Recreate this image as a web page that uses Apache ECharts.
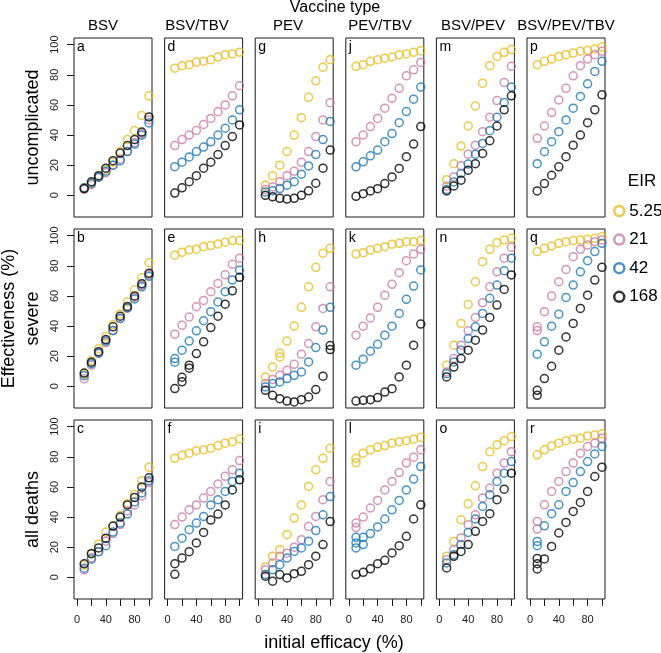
<!DOCTYPE html>
<html>
<head>
<meta charset="utf-8">
<script src="https://cdn.jsdelivr.net/npm/echarts@6/dist/echarts.min.js"></script>
<style>html,body{margin:0;padding:0;background:#fff;}#chart{width:661px;height:653px;}</style>
</head>
<body>
<div id="chart"></div>
<script>
// ---- data ----
const efficacy = [10, 20, 30, 40, 50, 60, 70, 80, 90, 100];
const eirLevels = ['5.25', '21', '42', '168'];
const vaccineTypes = ['BSV', 'BSV/TBV', 'PEV', 'PEV/TBV', 'BSV/PEV', 'BSV/PEV/TBV'];
const outcomes = ['uncomplicated', 'severe', 'all deaths'];
const panelLetters = ['a','b','c','d','e','f','g','h','i','j','k','l','m','n','o','p','q','r'];
const xTicks = [0, 20, 40, 60, 80, 100];
const xTickLabels = [0, 40, 80];
const yTicks = [0, 20, 40, 60, 80, 100];

// each panel: rows = EIR 5.25, 21, 42, 168 ; columns = efficacy 10..100
const panelA = [[5,8,12,17,22,29,37,43,53,66],[4,7,12,15,20,24,29,35,41,50],[5,8,12,16,20,23,29,34,40,48],[4.5,9,13,18,23,28,33,37,42,52]];
const panelB = [[8,17,25,33,41,48,56,64,72,82],[5,14,22,29,37,45,52,59,67,74],[7,15,22,30,37,45,52,58,66,73],[8.8,16,23,31,39.5,46.5,53,60,68,75]];
const panelC = [[8,16,22,30,34,41,49,55,64,73],[5,13,17,24,29,35,44,48,54,63],[6,12,17,21,30,36,42,50,56,64],[9,15.7,19.5,26,34,40,48,53,60,66]];
const panelD = [[84.4,86,86.7,88.4,89,90,91.8,93.3,93.8,95],[33,37,40,43,47,51,55.5,60,66,72.7],[19,22,25.5,29,32,35.5,40,44.5,50,56.7],[1.5,5,9,13,18,22,27,33,39,46.7]];
const panelE = [[87,89,90.5,91,92.7,93.4,94.5,95.6,96.7,96.7],[34.6,40.6,46,52.8,57,62.8,68.3,74,81,85],[18.4,24,30,36.8,43.5,49.5,56,62.8,70.5,77],[-1.5,6,14,21.7,29.5,39,46.5,54.5,63.4,72.3]];
const panelF = [[79,81,82.4,84,84.6,85.7,87.4,89,90,91.8],[35,40,44.8,48,52.6,57,62,67,71.3,77.5],[20.5,26,31.6,36,40.4,48,51.5,57,63.6,69],[9,12.8,17,22.8,29.8,38,42,48,58,64.7]];
const panelG = [[6.7,13,20,29,40,51.5,65,76,85,90],[3.8,5.5,9,13,16,22,29,39,50,61.5],[2.2,3,4.5,6.7,9,14,19.5,27,37,49],[0,-1,-2,-2.5,-2,0,3,8,18,30]];
const panelH = [[6.2,12.8,19.5,30,40,52.4,66,79,88.3,91.6],[1.8,4.5,7.3,10.6,14.6,21.3,28.4,39.5,51.7,66],[-0.4,1.8,2.9,5.1,7.3,9.5,16.2,25.7,37.3,52.4],[-2.7,-6,-8.2,-9.8,-10.4,-8.9,-7.1,-2.2,6.7,24.4]];
const panelI = [[6.9,14,18.3,28.3,39.3,48,60.3,71.3,79,85.7],[5,9.5,14,16,20,25,33.8,40.4,51.5,63.6],[1.8,5,8.4,12.8,17.2,19.5,24,31,41.5,53.6],[0.7,-2.6,1.8,-0.4,2.4,4,8.4,14,21.7,37]];
const panelJ = [[85.6,86.7,88.9,90,91,91.8,93.3,93.8,94.9,96],[35.6,40,45.6,51,57.8,64.4,71,79.3,83.3,88.2],[18.9,22.2,26.2,30,35.6,41,48.2,55.6,63.8,71.8],[-0.7,1.1,2.9,4.4,7.8,12.2,17.8,25.6,34,45.6]];
const panelK = [[87.8,88.7,90.5,91.6,92.7,94.3,94.9,96,96,96.7],[33.9,39.9,45.4,52.4,60.5,67.7,75.4,83.4,87.8,90.9],[14,18,23.3,27.9,33.9,39.9,48.4,57.7,66.5,77.2],[-9.8,-9.3,-8.9,-7.5,-3.8,-1.6,6.2,14,27.3,41.3]];
const panelL = [[79,82.4,84.6,86.4,87.4,89,90,90.7,91.7,93],[36,40,46,51,58,63.6,69.5,75.8,79.7,84.6],[22.8,21.7,29,33.4,38.7,44.8,51,58,65.2,73.5],[1.8,3.3,5.6,9,11.3,16.2,21,27.2,38.7,48.1]];
const panelM = [[10.4,21,32.7,46,59.3,74.4,86,92.2,94.9,96.7],[6,12.2,19.6,27.3,33.3,42.2,51.8,62.9,74.9,85.6],[3.8,8.9,14.4,20.7,27.3,34.4,42.9,51.8,61.6,71.8],[2.9,6.2,10,16.7,21,27.8,36.2,46,56.7,66]];
const panelN = [[14,27.3,41.7,54.3,69.4,82.7,90.9,95.3,97.1,98.2],[9.5,18.4,27.3,36.8,45.7,55.4,66,76,85,92.3],[8.4,16.2,24,31.7,39.5,48.4,58.4,67.2,76.7,85],[6.2,12.8,18.4,24,30.6,37.3,45.7,53.9,64.3,73.9]];
const panelO = [[14,23.8,38.2,48.8,60.7,73.5,83.4,87.9,90.7,93.4],[11.7,18.3,26.1,34.9,41.5,52.6,59.2,69.1,75.8,83.4],[9.5,15,21.7,29.8,38.7,47,54.8,63.6,69.1,76.8],[6.2,13.9,17.2,21.7,30.5,37.1,42.2,51.5,58.5,69.1]];
const panelP = [[86.7,88.9,90.4,92.2,93.3,94.4,95.6,96.2,97.1,98.4],[37.8,46,54.9,63.3,71,79.3,86,90.4,93.3,95.6],[21,28.9,35.6,42.2,50,57.8,65.6,74,82.2,88.9],[2.9,7.8,13.3,18.9,25.6,33.3,40,48.2,56.7,66.7]];
const panelQ = [[89.4,91.6,93.1,94.9,96,96.7,97.1,97.6,98.2,99.4],[39.5,49.5,59.9,69.4,77.6,86,90.9,93.8,96,97.1],[21.3,29.5,39.9,47.9,59,67.2,76,83.4,89.4,94.9],[-2.7,5.1,13.3,24,32.8,41.7,51.7,60.5,70.5,79]];
const panelR = [[81.3,84.6,87.2,89,90.7,91.7,92.3,93.8,94.5,95.2],[37.1,48.1,57,63.6,70.2,75.8,82.4,86.8,89,92.3],[23.8,34.2,42.2,48.1,57,62.9,70.2,76.8,81.9,86.8],[9,12.2,20.5,29.4,36.4,43.7,49.7,57,66.9,73.1]];

// additional replicate runs visible as stacked circles: [panel letter, EIR index, efficacy, effectiveness]
const replicates = [
  ['e',3,20,3],['e',3,30,12],['e',2,10,16],
  ['f',3,10,2],
  ['h',3,100,27],['h',0,30,22],
  ['l',2,10,26.5],['l',2,10,19.5],['l',2,20,26.5],['l',0,10,76],['l',1,10,33],
  ['q',3,10,-6],['q',1,10,37],
  ['r',3,10,12.5],['r',3,10,5.5],['r',1,10,32],['r',2,10,21]
];

// ---- presentation ----
const panels = [panelA,panelB,panelC,panelD,panelE,panelF,panelG,panelH,panelI,panelJ,panelK,panelL,panelM,panelN,panelO,panelP,panelQ,panelR];
const colors = ['#E6BE1E', '#CC79A7', '#1A78B4', '#000000'];
const FONT = "'Liberation Sans', Arial, Helvetica, sans-serif";
const gridLefts = [74, 164.6, 255.2, 345.8, 436.4, 527];
const gridTops = [38, 229, 420];
const GW = 78, GH = 179;
const titleCenters = [103, 197, 288, 380, 473, 566];

const grids = [], xAxes = [], yAxes = [], series = [], graphics = [];
panels.forEach((vals, p) => {
  const c = Math.floor(p / 3), r = p % 3;
  grids.push({left: gridLefts[c], top: gridTops[r], width: GW, height: GH, show: true,
    borderColor: '#1a1a1a', borderWidth: 1, backgroundColor: 'transparent', containLabel: false});
  const bottom = r === 2, first = c === 0;
  xAxes.push({type: 'value', gridIndex: p, min: -4.2, max: 104.2, position: 'bottom',
    axisLine: {show: false, onZero: false}, splitLine: {show: false},
    axisTick: {show: bottom, customValues: xTicks, length: 7, lineStyle: {color: '#1a1a1a', width: 1}},
    axisLabel: {show: bottom, customValues: xTickLabels, margin: 15, fontSize: 11, fontFamily: FONT, color: '#1a1a1a'}});
  yAxes.push({type: 'value', gridIndex: p, min: -14.4, max: 104.4, position: 'left',
    axisLine: {show: false, onZero: false}, splitLine: {show: false},
    axisTick: {show: first, customValues: yTicks, length: 7, lineStyle: {color: '#1a1a1a', width: 1}},
    axisLabel: {show: first, customValues: yTicks, rotate: 90, margin: 14, fontSize: 11, fontFamily: FONT, color: '#1a1a1a'}});
  vals.forEach((row, k) => {
    const pts = efficacy.map((x, i) => [x, row[i]]);
    replicates.forEach(rp => {
      if (rp[0] === panelLetters[p] && rp[1] === k) pts.push([rp[2], rp[3]]);
    });
    series.push({type: 'scatter', name: eirLevels[k], xAxisIndex: p, yAxisIndex: p,
      data: pts,
      symbol: 'circle', symbolSize: 8, clip: true, silent: true,
      itemStyle: {color: 'rgba(0,0,0,0)', borderColor: colors[k], borderWidth: 1.5},
      emphasis: {disabled: true}});
  });
  graphics.push({type: 'text', x: gridLefts[c] + 3, y: gridTops[r] + 2,
    style: {text: panelLetters[p], font: '14px ' + FONT, fill: '#000', textAlign: 'left', textVerticalAlign: 'top', align: 'left', verticalAlign: 'top'}});
});

vaccineTypes.forEach((t, c) => {
  graphics.push({type: 'text', x: titleCenters[c], y: 26,
    style: {text: t, font: '15px ' + FONT, fill: '#000', textAlign: 'center', textVerticalAlign: 'middle', align: 'center', verticalAlign: 'middle'}});
});
outcomes.forEach((t, r) => {
  graphics.push({type: 'text', x: 33, y: gridTops[r] + GH / 2, rotation: Math.PI / 2,
    style: {text: t, font: '18px ' + FONT, fill: '#000', textAlign: 'center', textVerticalAlign: 'middle', align: 'center', verticalAlign: 'middle'}});
});
graphics.push({type: 'text', x: 9, y: 318.5, rotation: Math.PI / 2,
  style: {text: 'Effectiveness (%)', font: '18px ' + FONT, fill: '#000', textAlign: 'center', textVerticalAlign: 'middle', align: 'center', verticalAlign: 'middle'}});
graphics.push({type: 'text', x: 334, y: 643,
  style: {text: 'initial efficacy (%)', font: '18px ' + FONT, fill: '#000', textAlign: 'center', textVerticalAlign: 'middle', align: 'center', verticalAlign: 'middle'}});
graphics.push({type: 'text', x: 335, y: 8,
  style: {text: 'Vaccine type', font: '16px ' + FONT, fill: '#000', textAlign: 'center', textVerticalAlign: 'middle', align: 'center', verticalAlign: 'middle'}});
graphics.push({type: 'text', x: 642, y: 181,
  style: {text: 'EIR', font: '17px ' + FONT, fill: '#000', textAlign: 'center', textVerticalAlign: 'middle', align: 'center', verticalAlign: 'middle'}});

const chart = echarts.init(document.getElementById('chart'), null, {renderer: 'canvas'});
chart.setOption({
  animation: false,
  backgroundColor: '#fff',
  grid: grids, xAxis: xAxes, yAxis: yAxes, series: series,
  legend: {orient: 'vertical', left: 613, top: 201, padding: 0, itemWidth: 10, itemHeight: 10, itemGap: 8.6,
    icon: 'circle', data: eirLevels, selectedMode: false,
    itemStyle: {color: 'rgba(0,0,0,0)', borderWidth: 2.5},
    textStyle: {fontSize: 17, lineHeight: 20, fontFamily: FONT, color: '#000'}},
  graphic: graphics
});
</script>
</body>
</html>
